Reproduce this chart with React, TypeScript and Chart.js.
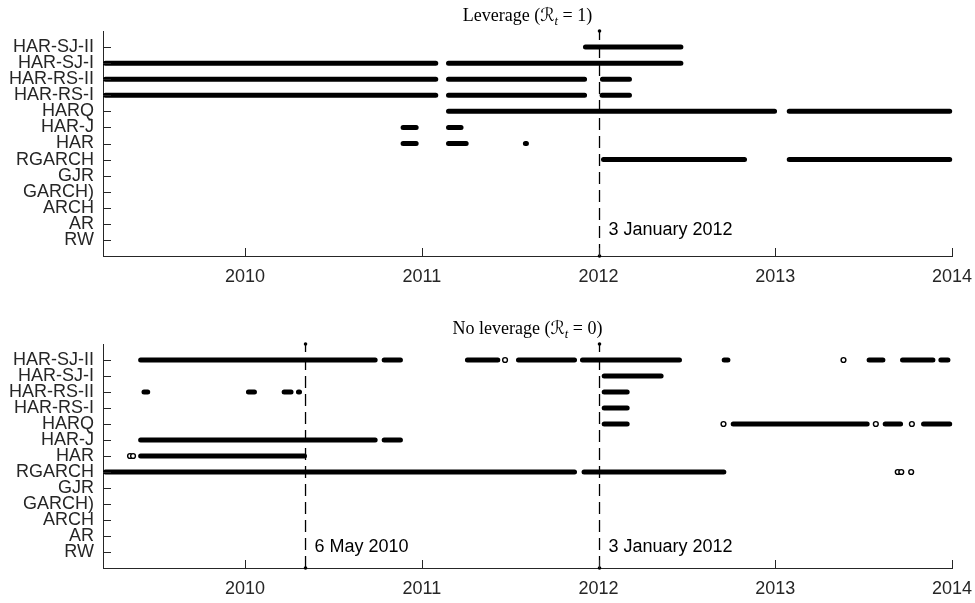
import React, { useEffect, useRef } from 'react';
import { Chart, registerables } from 'chart.js';

Chart.register(...registerables);

// ---------- categories & ticks ----------
const MODELS = ['RW', 'AR', 'ARCH', 'GARCH)', 'GJR', 'RGARCH', 'HAR', 'HAR-J', 'HARQ', 'HAR-RS-I', 'HAR-RS-II', 'HAR-SJ-I', 'HAR-SJ-II'];
const YEAR_TICKS = [2010, 2011, 2012, 2013, 2014];
const X_MIN = 2009.196;
const X_MAX = 2014;

type Seg = [number, number];

// ---------- Leverage panel (R_t = 1): spans in decimal years ----------
const LEV_HAR_SJ_II: Seg[] = [[2011.926, 2012.466]];
const LEV_HAR_SJ_I: Seg[] = [[2009.21, 2011.079], [2011.151, 2012.466]];
const LEV_HAR_RS_II: Seg[] = [[2009.21, 2011.079], [2011.151, 2011.921], [2012.022, 2012.175]];
const LEV_HAR_RS_I: Seg[] = [[2009.21, 2011.079], [2011.151, 2011.921], [2012.02, 2012.175]];
const LEV_HARQ: Seg[] = [[2011.151, 2012.996], [2013.079, 2013.987]];
const LEV_HAR_J: Seg[] = [[2010.894, 2010.968], [2011.151, 2011.222]];
const LEV_HAR: Seg[] = [[2010.894, 2010.968], [2011.151, 2011.251], [2011.586, 2011.592]];
const LEV_RGARCH: Seg[] = [[2012.028, 2012.826], [2013.079, 2013.987]];
const LEV_EVENTS = [2012.0055];
const LEV_EVENT_TEXT = ['3 January 2012'];
const LEV_EVENT_TEXT_Y = [1.62];

// ---------- No leverage panel (R_t = 0) ----------
const NOLEV_HAR_SJ_II: Seg[] = [[2009.409, 2010.736], [2010.787, 2010.879], [2011.258, 2011.43], [2011.547, 2011.864], [2011.909, 2012.458], [2012.711, 2012.732], [2013.531, 2013.609], [2013.72, 2013.892], [2013.937, 2013.977]];
const NOLEV_HAR_SJ_II_PTS = [2011.471, 2013.386];
const NOLEV_HAR_SJ_I: Seg[] = [[2012.032, 2012.354]];
const NOLEV_HAR_RS_II: Seg[] = [[2009.428, 2009.449], [2010.019, 2010.053], [2010.221, 2010.26], [2010.302, 2010.308], [2012.032, 2012.162]];
const NOLEV_HAR_RS_I: Seg[] = [[2012.032, 2012.162]];
const NOLEV_HARQ: Seg[] = [[2012.032, 2012.162], [2012.762, 2013.52], [2013.622, 2013.709], [2013.839, 2013.987]];
const NOLEV_HARQ_PTS = [2012.707, 2013.569, 2013.773];
const NOLEV_HAR_J: Seg[] = [[2009.409, 2010.736], [2010.787, 2010.879]];
const NOLEV_HAR: Seg[] = [[2009.409, 2010.336]];
const NOLEV_HAR_PTS = [2009.349, 2009.366];
const NOLEV_RGARCH: Seg[] = [[2009.21, 2011.864], [2011.918, 2012.709]];
const NOLEV_RGARCH_PTS = [2013.693, 2013.713, 2013.769];
const NOLEV_EVENTS = [2010.342, 2012.0055];
const NOLEV_EVENT_TEXT = ['6 May 2010', '3 January 2012'];
const NOLEV_EVENT_TEXT_Y = [1.33, 1.33];

// ---------- styling ----------
const AXIS_COLOR = '#262626';
const SANS = '"Liberation Sans", Arial, Helvetica, sans-serif';
const SERIF = '"Liberation Serif", "DejaVu Serif", "DejaVu Sans", serif';
const W = 975;

interface Row { model: string; segs: Seg[]; pts: number[] }
interface Panel {
  title: string; value: string; rows: Row[];
  events: number[]; eventText: string[]; eventTextY: number[];
  height: number; top: number; bottom: number; titleBaseline: number;
}

const LEV_PANEL: Panel = {
  title: 'Leverage', value: '1',
  rows: [
    { model: 'HAR-SJ-II', segs: LEV_HAR_SJ_II, pts: [] },
    { model: 'HAR-SJ-I', segs: LEV_HAR_SJ_I, pts: [] },
    { model: 'HAR-RS-II', segs: LEV_HAR_RS_II, pts: [] },
    { model: 'HAR-RS-I', segs: LEV_HAR_RS_I, pts: [] },
    { model: 'HARQ', segs: LEV_HARQ, pts: [] },
    { model: 'HAR-J', segs: LEV_HAR_J, pts: [] },
    { model: 'HAR', segs: LEV_HAR, pts: [] },
    { model: 'RGARCH', segs: LEV_RGARCH, pts: [] },
  ],
  events: LEV_EVENTS, eventText: LEV_EVENT_TEXT, eventTextY: LEV_EVENT_TEXT_Y,
  height: 300, top: 31, bottom: 256, titleBaseline: 21,
};

const NOLEV_PANEL: Panel = {
  title: 'No leverage', value: '0',
  rows: [
    { model: 'HAR-SJ-II', segs: NOLEV_HAR_SJ_II, pts: NOLEV_HAR_SJ_II_PTS },
    { model: 'HAR-SJ-I', segs: NOLEV_HAR_SJ_I, pts: [] },
    { model: 'HAR-RS-II', segs: NOLEV_HAR_RS_II, pts: [] },
    { model: 'HAR-RS-I', segs: NOLEV_HAR_RS_I, pts: [] },
    { model: 'HARQ', segs: NOLEV_HARQ, pts: NOLEV_HARQ_PTS },
    { model: 'HAR-J', segs: NOLEV_HAR_J, pts: [] },
    { model: 'HAR', segs: NOLEV_HAR, pts: NOLEV_HAR_PTS },
    { model: 'RGARCH', segs: NOLEV_RGARCH, pts: NOLEV_RGARCH_PTS },
  ],
  events: NOLEV_EVENTS, eventText: NOLEV_EVENT_TEXT, eventTextY: NOLEV_EVENT_TEXT_Y,
  height: 303, top: 44, bottom: 268, titleBaseline: 34,
};

function makeConfig(panel: Panel): any {
  const datasets: any[] = [];
  panel.rows.forEach((row) => {
    const y = MODELS.indexOf(row.model) + 1;
    const data: any[] = [];
    row.segs.forEach(([a, b]) => {
      data.push({ x: a, y }, { x: b, y }, { x: b, y: null });
    });
    datasets.push({
      type: 'line', data, borderColor: '#000', borderWidth: 5,
      borderCapStyle: 'round', borderJoinStyle: 'round', pointRadius: 0,
      spanGaps: false, fill: false, clip: 4,
    });
    if (row.pts.length) {
      datasets.push({
        type: 'line', data: row.pts.map((x) => ({ x, y })), showLine: false,
        pointRadius: 2.4, pointBorderWidth: 1.4, pointBorderColor: '#000',
        pointBackgroundColor: '#fff', clip: 4,
      });
    }
  });
  panel.events.forEach((d) => {
    datasets.push({
      type: 'line', data: [{ x: d, y: 0 }, { x: d, y: 14 }],
      borderColor: '#000', borderWidth: 1.3, borderDash: [12, 6],
      pointRadius: 1.8, pointBorderWidth: 0, pointBackgroundColor: '#000', clip: false,
    });
  });

  const decor = {
    id: 'decor',
    afterDraw(chart: any) {
      const ctx = chart.ctx;
      const xs = chart.scales.x;
      const ys = chart.scales.y;
      const area = chart.chartArea;
      ctx.save();
      // inward ticks
      ctx.strokeStyle = AXIS_COLOR;
      ctx.lineWidth = 1;
      ctx.beginPath();
      YEAR_TICKS.forEach((v) => {
        const px = Math.round(xs.getPixelForValue(v)) + 0.5;
        ctx.moveTo(px, area.bottom);
        ctx.lineTo(px, area.bottom - 8);
      });
      for (let i = 1; i <= MODELS.length; i++) {
        const py = Math.round(ys.getPixelForValue(i)) + 0.5;
        ctx.moveTo(area.left, py);
        ctx.lineTo(area.left + 8, py);
      }
      ctx.stroke();
      // event labels
      ctx.fillStyle = '#000';
      ctx.font = '18px ' + SANS;
      ctx.textAlign = 'left';
      ctx.textBaseline = 'middle';
      panel.events.forEach((d, i) => {
        ctx.fillText(panel.eventText[i], xs.getPixelForValue(d) + 9, ys.getPixelForValue(panel.eventTextY[i]));
      });
      // title
      const base = '18px ' + SERIF;
      const sub = 'italic 12.5px ' + SERIF;
      const parts = [
        { t: panel.title + ' (', f: base, dy: 0 },
        { t: '\u211B', f: base, dy: 0 },
        { t: 't', f: sub, dy: 3.5 },
        { t: ' = ' + panel.value + ')', f: base, dy: 0 },
      ];
      let total = 0;
      parts.forEach((p) => { ctx.font = p.f; total += ctx.measureText(p.t).width; });
      let x = (area.left + area.right) / 2 - total / 2;
      ctx.textBaseline = 'alphabetic';
      parts.forEach((p) => {
        ctx.font = p.f;
        ctx.fillText(p.t, x, panel.titleBaseline + p.dy);
        x += ctx.measureText(p.t).width;
      });
      ctx.restore();
    },
  };

  return {
    type: 'line',
    data: { datasets },
    plugins: [decor],
    options: {
      responsive: false,
      animation: false,
      devicePixelRatio: 1,
      events: [],
      layout: { padding: { left: 0, right: W - 952, top: panel.top, bottom: 0 } },
      plugins: { legend: { display: false }, tooltip: { enabled: false }, title: { display: false } },
      scales: {
        x: {
          type: 'linear', position: 'bottom', min: X_MIN, max: X_MAX,
          grid: { display: false, drawTicks: false },
          border: { display: true, color: AXIS_COLOR, width: 1 },
          ticks: {
            font: { size: 18, family: SANS }, color: AXIS_COLOR, padding: 10,
            autoSkip: false, maxRotation: 0, callback: (v: any) => String(v),
          },
          afterBuildTicks: (s: any) => { s.ticks = YEAR_TICKS.map((v) => ({ value: v })); },
          afterFit: (s: any) => { s.height = panel.height - panel.bottom; s.paddingLeft = 0; s.paddingRight = 0; },
        },
        y: {
          type: 'linear', position: 'left', min: 0, max: 14,
          grid: { display: false, drawTicks: false },
          border: { display: true, color: AXIS_COLOR, width: 1 },
          ticks: {
            stepSize: 1, autoSkip: false, padding: 9, color: AXIS_COLOR,
            font: { size: 18, family: SANS },
            callback: (v: any) => (v >= 1 && v <= MODELS.length ? MODELS[v - 1] : ''),
          },
          afterFit: (s: any) => { s.width = 103; s.paddingTop = 0; s.paddingBottom = 0; },
        },
      },
    },
  };
}

export default function App() {
  const ref1 = useRef<HTMLCanvasElement>(null);
  const ref2 = useRef<HTMLCanvasElement>(null);
  useEffect(() => {
    const c1 = new Chart(ref1.current as HTMLCanvasElement, makeConfig(LEV_PANEL));
    const c2 = new Chart(ref2.current as HTMLCanvasElement, makeConfig(NOLEV_PANEL));
    return () => { c1.destroy(); c2.destroy(); };
  }, []);
  return (
    <div style={{ position: 'absolute', left: 0, top: 0, width: W, height: 603, background: '#fff' }}>
      <canvas ref={ref1} width={W} height={LEV_PANEL.height}
        style={{ position: 'absolute', left: 0, top: 0, width: W, height: LEV_PANEL.height }} />
      <canvas ref={ref2} width={W} height={NOLEV_PANEL.height}
        style={{ position: 'absolute', left: 0, top: LEV_PANEL.height, width: W, height: NOLEV_PANEL.height }} />
    </div>
  );
}
